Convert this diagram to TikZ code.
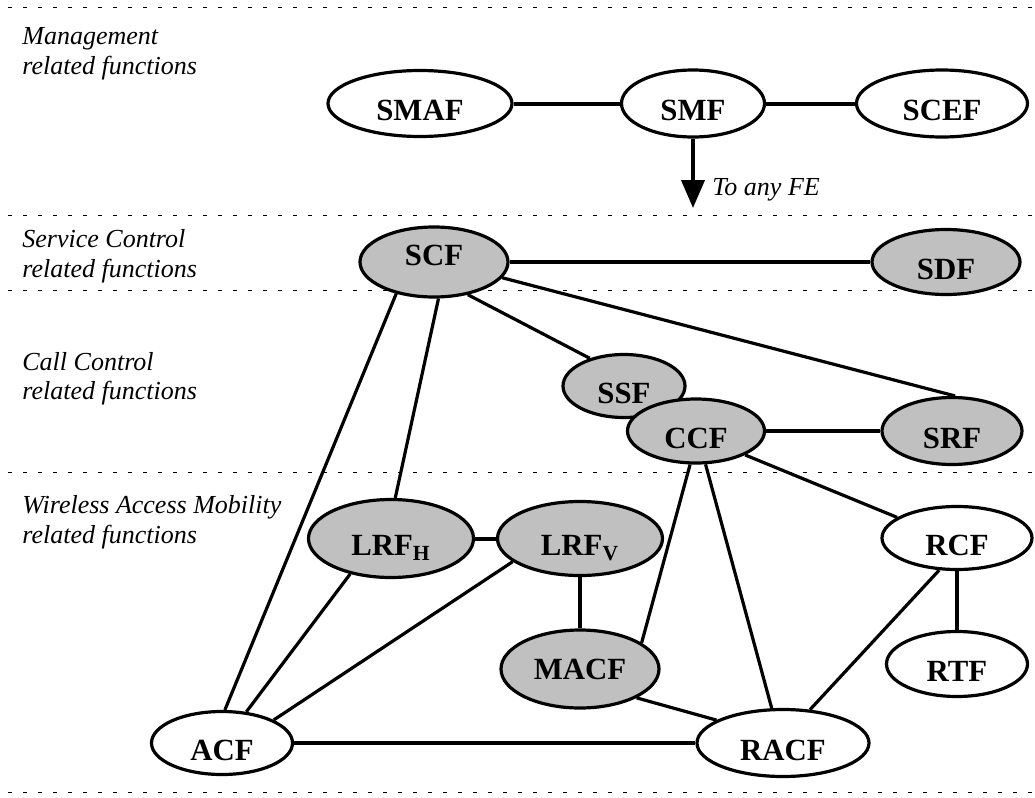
\documentclass[tikz,border=0pt]{standalone}
\usepackage{fontspec}
\setmainfont{Liberation Serif}
\usetikzlibrary{shapes.geometric,arrows.meta,backgrounds}
\definecolor{fegray}{RGB}{192,192,192}
\begin{document}
\begin{tikzpicture}[x=0.5pt,y=-0.5pt,
  fe/.style={ellipse,draw,line width=1.6pt,inner sep=0pt,fill=white,
    font=\fontsize{15.4}{18}\selectfont\bfseries,text height=17.2pt,text depth=0pt},
  gfe/.style={fe,fill=fegray},
  sz/.style 2 args={minimum width=#1pt,minimum height=#2pt},
  lab/.style={anchor=base west,inner sep=0pt,font=\fontsize{13}{15}\selectfont\itshape},
  sep/.style={line width=0.5pt,dash pattern=on 2.2pt off 5.3pt},
  link/.style={line width=1.6pt},
  hlink/.style={line width=2pt}]
\useasboundingbox (0,0) rectangle (1035,798);
% separators
\foreach \yy/\nm in {7/s0,215/s1,290/s2,472/s3,792/s4}{
  \coordinate (\nm a) at (8,\yy); \coordinate (\nm b) at (1035,\yy);
  \draw[sep] (\nm a) -- (\nm b);
}
% labels
\node[lab] (m1) at (22,44) {Management};
\node[lab] (m2) at (22,74) {related functions};
\node[lab] (sc1) at (22,247) {Service Control};
\node[lab] (sc2) at (22,277) {related functions};
\node[lab] (cc1) at (22,370) {Call Control};
\node[lab] (cc2) at (22,399) {related functions};
\node[lab] (w1) at (22,513) {Wireless Access Mobility};
\node[lab] (w2) at (22,543) {related functions};
% nodes
\node[fe,sz={92}{33}] (smaf) at (420,103.5) {SMAF};
\node[fe,sz={71.5}{33.5}] (smf) at (693,103.5) {SMF};
\node[fe,sz={85.5}{33.5}] (scef) at (942,103.5) {SCEF};
\node[gfe,sz={74}{35},text height=10.2pt,text depth=7pt] (scf) at (434,262) {SCF};
\node[gfe,sz={74}{32.5}] (sdf) at (946,262) {SDF};
\node[gfe,sz={61}{31.5}] (ssf) at (624,386) {SSF};
\node[gfe,sz={68.5}{32}] (ccf) at (696,431) {CCF};
\node[gfe,sz={70}{33.5}] (srf) at (952,431) {SRF};
\node[gfe,sz={82.5}{39}] (lrfh) at (391,538.5) {LRF\textsubscript{H}};
\node[gfe,sz={82.5}{37}] (lrfv) at (580,538.5) {LRF\textsubscript{V}};
\node[gfe,sz={79}{39},text height=10.2pt] (macf) at (580,669) {MACF};
\node[fe,sz={70.5}{31.5}] (acf) at (222,743) {ACF};
\node[fe,sz={86}{33.5}] (racf) at (783,743) {RACF};
\node[fe,sz={75}{31.5}] (rcf) at (957,538) {RCF};
\node[fe,sz={70.5}{32.5}] (rtf) at (957,664) {RTF};
% arrow
\coordinate (tip) at (693,208);
\draw[hlink,-{Triangle[width=11.5pt,length=14pt]}] (smf) -- (tip);
\node[lab] (toany) at (712,195) {To any FE};
% links
\begin{scope}[on background layer]
\draw[hlink] (smaf) -- (smf);
\draw[hlink] (smf) -- (scef);
\draw[hlink] (scf) -- (sdf);
\draw[link] (scf.316) -- (ssf.141);
\draw[link] (scf.347) -- (srf.85);
\draw[link] (scf.220) -- (acf.85);
\draw[link] (scf.277) -- (lrfh.84);
\draw[hlink] (ccf) -- (srf);
\draw[link] (ccf.260) -- (macf.23);
\draw[link] (ccf.286) -- (racf.108);
\draw[link] (ccf.334) -- (rcf.161);
\draw[hlink] (lrfh) -- (lrfv);
\draw[link] (lrfh.221) -- (acf.52);
\draw[link] (lrfv.199) -- (acf.24);
\draw[hlink] (lrfv) -- (macf);
\draw[link] (macf.333) -- (racf.161);
\draw[hlink] (acf) -- (racf);
\draw[hlink] (rcf) -- (rtf);
\draw[link] (rcf.241) -- (racf.51);
\end{scope}
\end{tikzpicture}
\end{document}
